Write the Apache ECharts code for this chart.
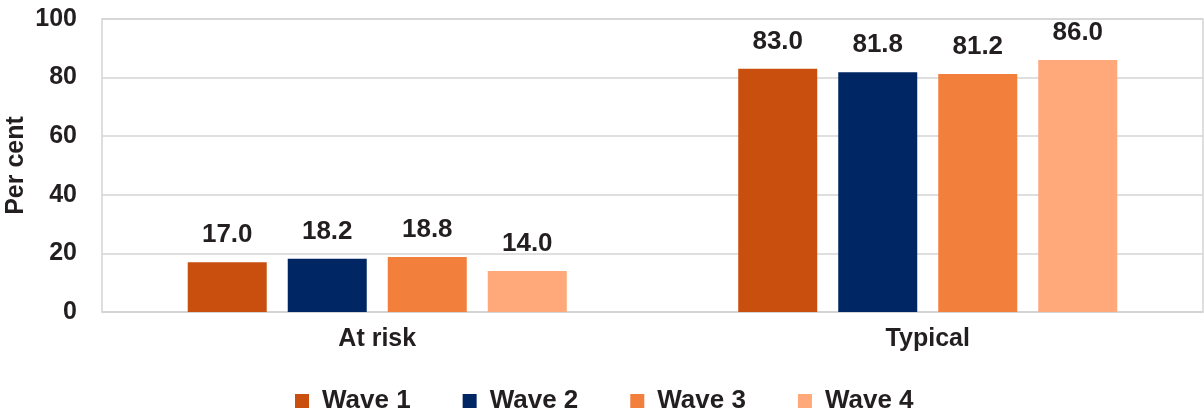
<!DOCTYPE html>
<html>
<head>
<meta charset="utf-8">
<script src="https://cdn.jsdelivr.net/npm/echarts@6/dist/echarts.min.js"></script>
<style>
  html, body { margin: 0; padding: 0; background: #fff; }
  #chart { width: 1204px; height: 412px; }
</style>
</head>
<body>
<div id="chart"></div>
<script>
// Share of respondents by risk group, per survey wave
const categories = ['At risk', 'Typical'];
const waveNames = ['Wave 1', 'Wave 2', 'Wave 3', 'Wave 4'];
const wave1 = [17.0, 83.0];
const wave2 = [18.2, 81.8];
const wave3 = [18.8, 81.2];
const wave4 = [14.0, 86.0];
const yTicks = [0, 20, 40, 60, 80, 100];

const waveColors = ['#c84f0d', '#002663', '#f37f3c', '#ffa87a'];
const textColor = '#231f20';
const font = 'Liberation Sans, Arial, Helvetica, sans-serif';
const weight = 'bold';

const seriesData = [wave1, wave2, wave3, wave4];

const chart = echarts.init(document.getElementById('chart'), null, { renderer: 'canvas' });

chart.setOption({
  animation: false,
  textStyle: { fontFamily: font, color: textColor },
  grid: {
    left: 102, right: 1, top: 19, bottom: 100,
    containLabel: false,
    outerBoundsMode: 'none',
    show: true, borderColor: '#d4d4d4', borderWidth: 1.5
  },
  legend: {
    data: waveNames,
    top: 383,
    left: 290,
    itemWidth: 14,
    itemHeight: 14,
    itemGap: 52,
    icon: 'rect',
    textStyle: {
      fontFamily: font, fontSize: 26, fontWeight: weight, color: textColor,
      padding: [0, 0, 0, 8]
    }
  },
  xAxis: {
    type: 'category',
    data: categories,
    axisLine: { show: true, lineStyle: { color: '#d4d4d4', width: 1.5 } },
    axisTick: { show: false },
    axisLabel: { fontFamily: font, fontSize: 25, fontWeight: weight, color: textColor, margin: 15 }
  },
  yAxis: {
    type: 'value',
    min: yTicks[0],
    max: yTicks[yTicks.length - 1],
    interval: yTicks[1] - yTicks[0],
    name: 'Per cent',
    nameLocation: 'middle',
    nameGap: 73,
    nameMoveOverlap: false,
    nameTextStyle: { fontFamily: font, fontSize: 25, fontWeight: weight, color: textColor },
    axisLine: { show: false },
    axisTick: { show: false },
    axisLabel: { fontFamily: font, fontSize: 25, fontWeight: weight, color: textColor, margin: 25 },
    splitLine: { lineStyle: { color: '#d4d4d4', width: 1.5 } }
  },
  series: waveNames.map((name, i) => ({
    name: name,
    type: 'bar',
    data: seriesData[i],
    barWidth: 79,
    barGap: '26.6%',
    itemStyle: { color: waveColors[i] },
    label: {
      show: true,
      position: 'top',
      distance: 14,
      formatter: p => p.value.toFixed(1),
      fontFamily: font,
      fontSize: 26,
      fontWeight: weight,
      color: textColor
    }
  }))
});
</script>
</body>
</html>
